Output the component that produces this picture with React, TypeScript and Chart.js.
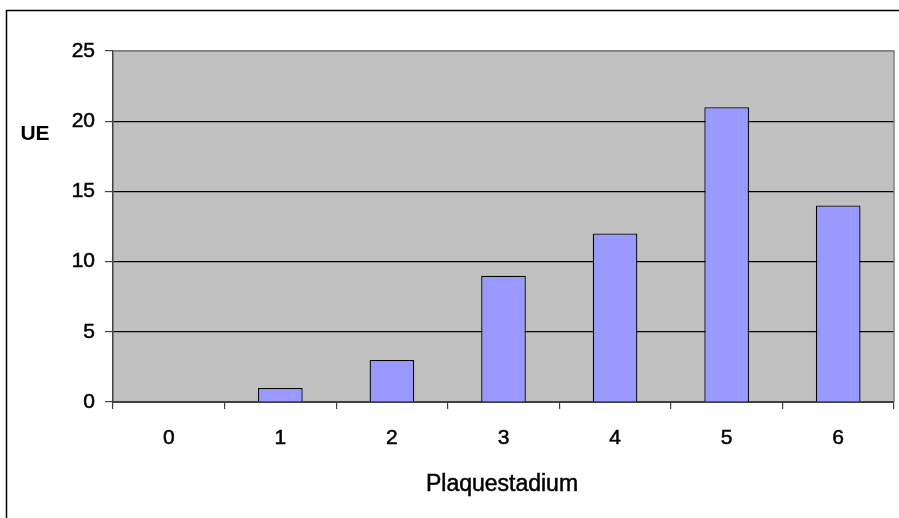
import React, { useEffect, useRef } from "react";
import { Chart, registerables } from "chart.js";

Chart.register(...registerables);

const categories = ["0", "1", "2", "3", "4", "5", "6"];
const values = [0, 1, 3, 9, 12, 21, 14];
const yTicks = [0, 5, 10, 15, 20, 25];
const xTitle = "Plaquestadium";
const yTitle = "UE";

const FONT = "'Liberation Sans', Arial, sans-serif";

const decor = {
  id: "decor",
  beforeDraw(chart: any) {
    const { ctx, chartArea } = chart;
    ctx.save();
    ctx.fillStyle = "#ffffff";
    ctx.fillRect(0, 0, chart.width, chart.height);
    ctx.strokeStyle = "#000000";
    ctx.lineWidth = 1.5;
    ctx.strokeRect(6.5, 10.5, chart.width + 20, chart.height + 20);
    ctx.fillStyle = "#C0C0C0";
    ctx.fillRect(chartArea.left, chartArea.top, chartArea.right - chartArea.left, chartArea.bottom - chartArea.top);
    ctx.restore();
  },
  beforeDatasetsDraw(chart: any) {
    const { ctx, chartArea } = chart;
    ctx.save();
    ctx.strokeStyle = "#808080";
    ctx.lineWidth = 1.5;
    ctx.beginPath();
    ctx.moveTo(chartArea.left, chartArea.top);
    ctx.lineTo(chartArea.right, chartArea.top);
    ctx.lineTo(chartArea.right, chartArea.bottom);
    ctx.stroke();
    ctx.restore();
  },
  afterDraw(chart: any) {
    const { ctx } = chart;
    ctx.save();
    ctx.fillStyle = "#000000";
    ctx.strokeStyle = "#000000";
    ctx.textAlign = "center";
    ctx.textBaseline = "middle";
    ctx.font = `bold 21px ${FONT}`;
    ctx.fillText(yTitle, 35, 134);
    ctx.font = `23px ${FONT}`;
    ctx.lineWidth = 0.5;
    ctx.strokeText(xTitle, 502, 485);
    ctx.fillText(xTitle, 502, 485);
    ctx.restore();
  },
};

export default function App() {
  const ref = useRef<HTMLCanvasElement>(null);
  useEffect(() => {
    if (!ref.current) return;
    const chart = new Chart(ref.current, {
      type: "bar",
      data: {
        labels: categories,
        datasets: [
          {
            data: values,
            backgroundColor: "#9999FF",
            borderColor: "#000000",
            borderWidth: 1.3,
            barPercentage: 0.4,
            categoryPercentage: 1.0,
          },
        ],
      },
      options: {
        animation: false,
        responsive: false,
        devicePixelRatio: 1,
        layout: { padding: { left: 0, top: 51, right: 5, bottom: 0 } },
        plugins: { legend: { display: false }, tooltip: { enabled: false } },
        scales: {
          x: {
            afterFit(scale: any) {
              scale.height = 116;
            },
            grid: {
              offset: true,
              drawOnChartArea: false,
              drawTicks: true,
              tickLength: 7,
              tickColor: "#404040",
              lineWidth: 1.2,
            },
            border: { display: true, color: "#404040", width: 2 },
            ticks: {
              color: "#000000",
              textStrokeColor: "#000000",
              textStrokeWidth: 0.5,
              padding: 17,
              font: { family: FONT, size: 21 },
            },
          },
          y: {
            min: 0,
            max: 25,
            afterFit(scale: any) {
              scale.width = 113;
            },
            afterBuildTicks(scale: any) {
              scale.ticks = yTicks.map((v) => ({ value: v }));
            },
            grid: {
              color: (c: any) => (c.tick && c.tick.value === 25 ? "#808080" : c.tick && c.tick.value === 0 ? "#404040" : "#000000"),
              lineWidth: 1.2,
              drawTicks: true,
              tickLength: 8,
              tickColor: "#404040",
            },
            border: { display: true, color: "#404040", width: 1.5 },
            ticks: {
              color: "#000000",
              textStrokeColor: "#000000",
              textStrokeWidth: 0.5,
              padding: 10,
              font: { family: FONT, size: 21 },
            },
          },
        },
      },
      plugins: [decor],
    });
    return () => chart.destroy();
  }, []);
  return (
    <div style={{ position: "absolute", left: 0, top: 0, width: 899, height: 518 }}>
      <canvas ref={ref} width={899} height={518} style={{ width: 899, height: 518 }} />
    </div>
  );
}
